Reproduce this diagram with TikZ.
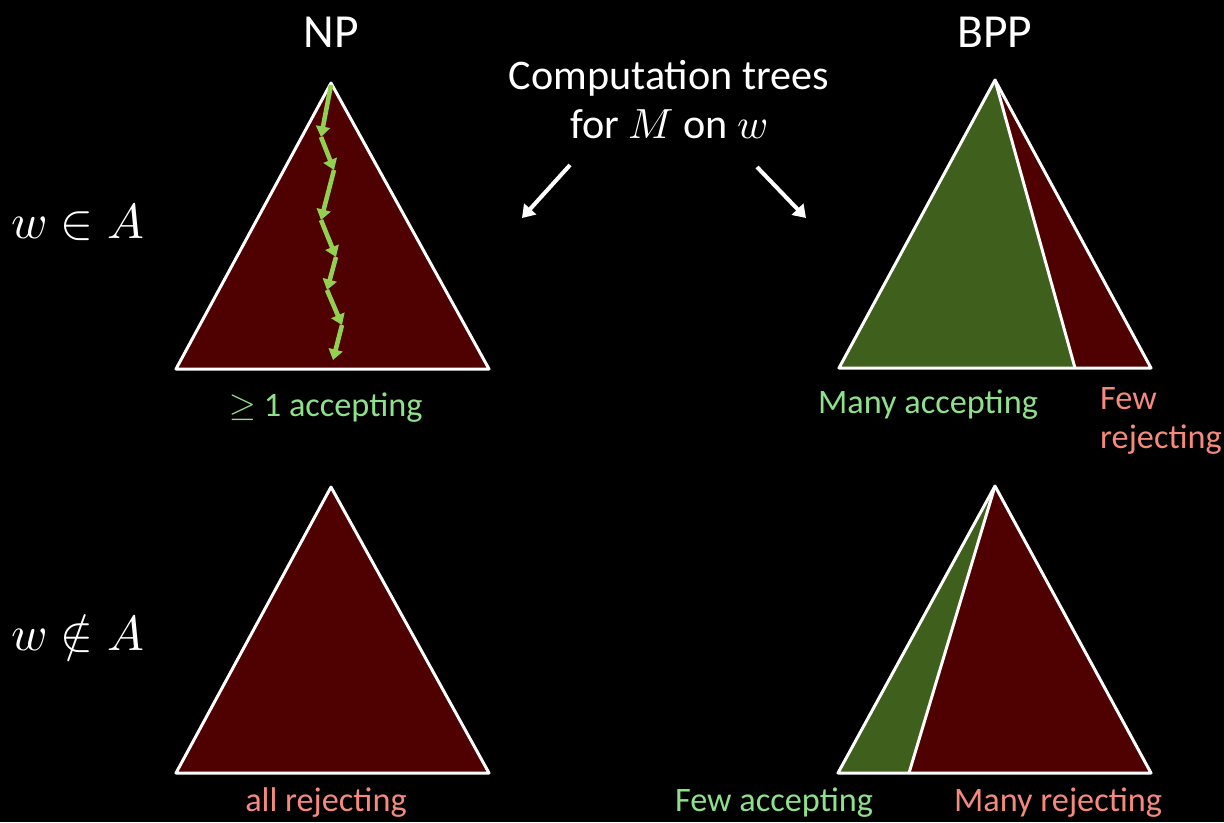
\documentclass[tikz,border=0pt]{standalone}
\usepackage{amsmath}
\usepackage{fontspec}
\usepackage{unicode-math}
\setmainfont{Carlito}
\setmathfont{Latin Modern Math}
\usetikzlibrary{arrows.meta}

\definecolor{treered}{HTML}{4F0000}
\definecolor{treegreen}{HTML}{3F5F1D}
\definecolor{pathgreen}{HTML}{92D050}
\definecolor{acclabel}{HTML}{8FE08A}
\definecolor{rejlabel}{HTML}{F48A7E}

\tikzset{
  tree/.style={draw=white, line width=1.7pt, line join=round},
  pointer/.style={white, line width=2.3pt, -{Triangle[length=7pt,width=9pt]}},
  walk/.style={pathgreen, line width=2.6pt, -{Triangle[length=6pt,width=8pt]}},
  heading/.style={text=white, font=\fontsize{27}{32}\selectfont},
  rowlabel/.style={text=white, font=\fontsize{28}{32}\selectfont},
  caption/.style={text=white, font=\fontsize{24}{28}\selectfont, align=center},
  acc/.style={text=acclabel, font=\fontsize{19.5}{24}\selectfont},
  rej/.style={text=rejlabel, font=\fontsize{19.5}{24}\selectfont, align=left},
}

\begin{document}
\begin{tikzpicture}[x=0.02cm, y=-0.02cm]
			% background
			\fill[black] (0,0) rectangle (1224,822);
			\useasboundingbox (0,0) rectangle (1224,822);

			% headings
			\node[heading] (np) at (331,32) {NP};
			\node[heading] (bpp) at (995,32) {BPP};
			\node[caption] (cap) at (669,100) {Computation trees\\ for $M$ on $w$};

			% row labels
			\node[rowlabel] (inA) at (78,222) {$w \in A$};
			\node[rowlabel] (notinA) at (78,638) {$w \notin A$};

			% NP, w in A
			\coordinate (npTop) at (331,83);
			\fill[treered] (npTop) -- (176,369) -- (489,369) -- cycle;
			\draw[tree] (npTop) -- (176,369) -- (489,369) -- cycle;
			% accepting branch
			\coordinate (p0) at (331,85);
			\coordinate (p1) at (321,137);
			\coordinate (p2) at (334,170);
			\coordinate (p3) at (321,220);
			\coordinate (p4) at (336,257);
			\coordinate (p5) at (327,290);
			\coordinate (p6) at (342,325);
			\coordinate (p7) at (333,360);
			\foreach \i [evaluate=\i as \j using int(\i+1)] in {0,...,6}
				\draw[walk] (p\i) -- (p\j);
			\node[acc] (npacc) at (326,408) {$\geq$ 1 accepting};

			% NP, w not in A
			\fill[treered] (331,487) -- (176,773) -- (489,773) -- cycle;
			\draw[tree] (331,487) -- (176,773) -- (489,773) -- cycle;
			\node[rej] (nprej) at (326,803) {all rejecting};

			% BPP, w in A
			\fill[treegreen] (995,80) -- (839,368) -- (1075,368) -- cycle;
			\fill[treered] (995,80) -- (1075,368) -- (1151,368) -- cycle;
			\draw[tree] (995,80) -- (839,368) -- (1151,368) -- cycle;
			\draw[tree] (995,80) -- (1075,368);
			\node[acc] (bppacc) at (928,405) {Many accepting};
			\node[rej, anchor=west] (bpprej) at (1094,421) {Few\\[-2pt]rejecting};

			% BPP, w not in A
			\fill[treegreen] (995,486) -- (838,773) -- (909,773) -- cycle;
			\fill[treered] (995,486) -- (909,773) -- (1151,773) -- cycle;
			\draw[tree] (995,486) -- (838,773) -- (1151,773) -- cycle;
			\draw[tree] (995,486) -- (909,773);
			\node[acc] (bppfew) at (774,803) {Few accepting};
			\node[rej] (bppmany) at (1058,803) {Many rejecting};

			% pointers to the trees
			\coordinate (lfrom) at (570,165);
			\coordinate (lto) at (522,218);
			\coordinate (rfrom) at (757,167);
			\coordinate (rto) at (806,218);
			\draw[pointer] (lfrom) -- (lto);
			\draw[pointer] (rfrom) -- (rto);
\end{tikzpicture}
\end{document}
